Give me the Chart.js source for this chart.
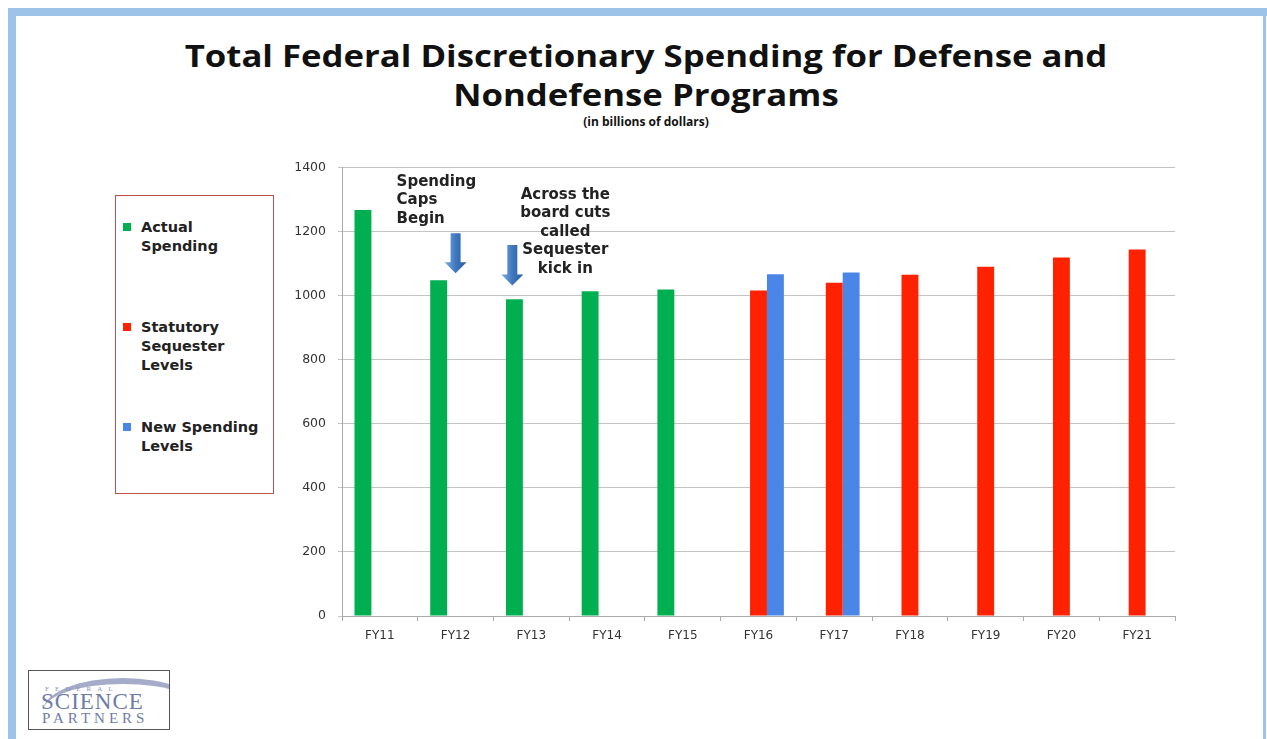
<!DOCTYPE html>
<html>
<head>
<meta charset="utf-8">
<script src="https://cdn.jsdelivr.net/npm/chart.js@4.4.1/dist/chart.umd.min.js"></script>
<style>
  html, body { margin: 0; padding: 0; background: #fff; }
  body { width: 1267px; height: 739px; position: relative; overflow: hidden; font-family: "DejaVu Sans", sans-serif; }
  .frame-top { position: absolute; left: 8px; top: 8px; width: 1259px; height: 8px; background: #9dc3e8; }
  .frame-left { position: absolute; left: 8px; top: 8px; width: 8px; height: 731px; background: #9dc3e8; }
  .frame-right { position: absolute; left: 1263px; top: 8px; width: 3px; height: 731px; background: #9dc3e8; }
  .title { position: absolute; left: 0; width: 1292px; text-align: center; font-family: "Open Sans", sans-serif; font-weight: 700; color: #111; white-space: nowrap; }
  .t1 { top: 34px; font-size: 31px; transform: scaleX(1.12); }
  .t2 { top: 73px; font-size: 31px; transform: scaleX(1.12); }
  .sub { top: 113px; font-size: 12px; }
  #legend { position: absolute; left: 115px; top: 195px; width: 159px; height: 299px; border: 1px solid #c0504d; box-sizing: border-box; }
  .li { position: absolute; left: 7px; font-size: 14.5px; font-weight: 700; color: #222; line-height: 19px; font-family: "DejaVu Sans", sans-serif; white-space: nowrap; }
  .li i { position: absolute; left: 0; top: 5px; width: 8px; height: 8px; }
  .li span { display: block; padding-left: 18px; }
  #wrap { position: absolute; left: 280px; top: 148px; width: 900px; height: 498px; }
  .logo { position: absolute; left: 28px; top: 670px; width: 142px; height: 60px; border: 1px solid #555; box-sizing: border-box; font-family: "Liberation Serif", serif; color: #6f7ba8; overflow: hidden; }
  .logo .arc { position: absolute; left: 14px; top: 7px; width: 160px; height: 60px; border-top: 6px solid #a4acc9; border-radius: 50% 50% 0 0; }
  .logo .f { position: absolute; left: 16px; top: 14px; font-size: 7px; letter-spacing: 6px; color: #8a93b8; }
  .logo .s { position: absolute; left: 12px; top: 20px; font-size: 23px; letter-spacing: 1px; line-height: 22px; }
  .logo .p { position: absolute; left: 13px; top: 39px; font-size: 15px; letter-spacing: 4px; line-height: 16px; }
</style>
</head>
<body>
<div class="frame-top"></div>
<div class="frame-left"></div>
<div class="frame-right"></div>
<div class="title t1">Total Federal Discretionary Spending for Defense and</div>
<div class="title t2">Nondefense Programs</div>
<div class="title sub">(in billions of dollars)</div>
<div id="legend"></div>
<div id="wrap"><canvas id="c"></canvas></div>
<div class="logo"><div class="arc"></div><div class="f">FEDERAL</div><div class="s">SCIENCE</div><div class="p">PARTNERS</div></div>
<script>
const categories = ['FY11', 'FY12', 'FY13', 'FY14', 'FY15', 'FY16', 'FY17', 'FY18', 'FY19', 'FY20', 'FY21'];
const actualSpending = [1267, 1048, 989, 1014, 1019, null, null, null, null, null, null];
const sequesterLevels = [null, null, null, null, null, 1016, 1040, 1065, 1090, 1119, 1144];
const newSpending = [null, null, null, null, null, 1067, 1072, null, null, null, null];
const yTicks = [0, 200, 400, 600, 800, 1000, 1200, 1400];

const seriesInfo = [
  { label: 'Actual Spending', lines: ['Actual', 'Spending'], data: actualSpending, color: '#00b050', top: 22 },
  { label: 'Statutory Sequester Levels', lines: ['Statutory', 'Sequester', 'Levels'], data: sequesterLevels, color: '#ff2200', top: 122 },
  { label: 'New Spending Levels', lines: ['New Spending', 'Levels'], data: newSpending, color: '#4a86e8', top: 222 },
];

// legend box on the left
const legendEl = document.getElementById('legend');
seriesInfo.forEach(s => {
  const d = document.createElement('div');
  d.className = 'li';
  d.style.top = s.top + 'px';
  d.innerHTML = '<i style="background:' + s.color + '"></i><span>' + s.lines.join('<br>') + '</span>';
  legendEl.appendChild(d);
});

// text notes + blue arrows, anchored to the scales
const notes = [
  { cat: 1, align: 'left', dx: -59, value: 1355, lines: ['Spending', 'Caps', 'Begin'] },
  { cat: 2, align: 'center', dx: 34, value: 1315, lines: ['Across the', 'board cuts', 'called', 'Sequester', 'kick in'] },
];
const arrows = [
  { cat: 1, dx: 0, from: 1195, to: 1070 },
  { cat: 2, dx: -19, from: 1158, to: 1032 },
];

const notesPlugin = {
  id: 'notes',
  afterDatasetsDraw(chart) {
    const { ctx, scales: { x, y } } = chart;
    ctx.save();
    ctx.font = '700 15px "DejaVu Sans", sans-serif';
    ctx.fillStyle = '#222';
    ctx.textBaseline = 'middle';
    notes.forEach(n => {
      const cx = x.getPixelForValue(n.cat) + n.dx;
      const cy = y.getPixelForValue(n.value);
      ctx.textAlign = n.align;
      n.lines.forEach((t, i) => ctx.fillText(t, cx, cy + i * 18.5));
    });
    arrows.forEach(a => {
      const cx = x.getPixelForValue(a.cat) + a.dx;
      const y0 = y.getPixelForValue(a.from);
      const y1 = y.getPixelForValue(a.to);
      const headH = 11;
      const g = ctx.createLinearGradient(cx - 10, 0, cx + 10, 0);
      g.addColorStop(0, '#7aa7dc');
      g.addColorStop(0.5, '#3f78c0');
      g.addColorStop(1, '#2a5d9f');
      ctx.fillStyle = g;
      ctx.beginPath();
      ctx.moveTo(cx - 5, y0);
      ctx.lineTo(cx + 5, y0);
      ctx.lineTo(cx + 5, y1 - headH);
      ctx.lineTo(cx + 11, y1 - headH);
      ctx.lineTo(cx, y1);
      ctx.lineTo(cx - 11, y1 - headH);
      ctx.lineTo(cx - 5, y1 - headH);
      ctx.closePath();
      ctx.fill();
    });
    ctx.restore();
  }
};

new Chart(document.getElementById('c'), {
  type: 'bar',
  data: {
    labels: categories,
    datasets: seriesInfo.map(s => ({
      label: s.label,
      data: s.data,
      backgroundColor: s.color,
      borderColor: s.color,
      borderWidth: 0,
    }))
  },
  options: {
    animation: false,
    responsive: true,
    maintainAspectRatio: false,
    layout: { padding: { top: 3, right: 5, left: 0, bottom: 0 } },
    categoryPercentage: 0.67,
    barPercentage: 1.0,
    scales: {
      x: {
        offset: true,
        grid: { display: true, drawOnChartArea: false, drawTicks: true, tickLength: 5, color: '#aaa', offset: true },
        border: { color: '#aaa' },
        ticks: { color: '#333', font: { family: '"DejaVu Sans", sans-serif', size: 12 }, padding: 8 },
        afterFit(scale) { scale.height = 30; }
      },
      y: {
        min: 0,
        max: 1400,
        afterBuildTicks(scale) { scale.ticks = yTicks.map(v => ({ value: v })); },
        grid: { color: '#c4c4c4', drawTicks: true, tickLength: 4 },
        border: { color: '#aaa' },
        ticks: {
          color: '#333',
          font: { family: '"DejaVu Sans", sans-serif', size: 12.5 },
          padding: 12,
          callback: v => String(v)
        },
        afterFit(scale) { scale.width = 62; }
      }
    },
    plugins: {
      legend: { display: false },
      tooltip: { enabled: false }
    }
  },
  plugins: [notesPlugin]
});
</script>
</body>
</html>
